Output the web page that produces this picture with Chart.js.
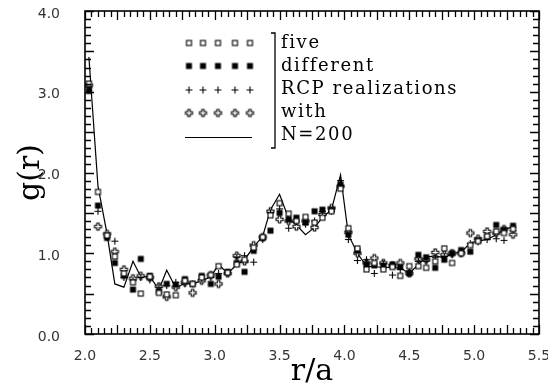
<!DOCTYPE html>
<html>
<head>
<meta charset="utf-8">
<script src="https://cdn.jsdelivr.net/npm/chart.js@4.4.1/dist/chart.umd.min.js"></script>
<style>
  html, body { margin: 0; padding: 0; background: #fff; }
  #wrap { width: 548px; height: 390px; }
</style>
</head>
<body>
<div id="wrap"><canvas id="c" width="548" height="390"></canvas></div>
<script>
// r/a bin positions
const rBins = [2.03, 2.10, 2.17, 2.23, 2.30, 2.37, 2.43, 2.50, 2.57, 2.63,
               2.70, 2.77, 2.83, 2.90, 2.97, 3.03, 3.10, 3.17, 3.23, 3.30,
               3.37, 3.43, 3.50, 3.57, 3.63, 3.70, 3.77, 3.83, 3.90, 3.97,
               4.03, 4.10, 4.17, 4.23, 4.30, 4.37, 4.43, 4.50, 4.57, 4.63,
               4.70, 4.77, 4.83, 4.90, 4.97, 5.03, 5.10, 5.17, 5.23, 5.30];

// g(r) for the five realizations (four marker sets + the solid line)
const gOpenSquare = [3.10, 1.76, 1.22, 0.96, 0.75, 0.64, 0.50, 0.71, 0.51, 0.49,
                     0.48, 0.66, 0.62, 0.70, 0.73, 0.84, 0.76, 0.86, 0.92, 1.07,
                     1.20, 1.47, 1.62, 1.49, 1.40, 1.45, 1.38, 1.44, 1.52, 1.80,
                     1.31, 1.06, 0.80, 0.88, 0.80, 0.83, 0.72, 0.84, 0.84, 0.82,
                     0.90, 1.06, 0.88, 1.00, 1.10, 1.15, 1.21, 1.27, 1.25, 1.30];
const gFilledSquare = [3.01, 1.59, 1.19, 0.88, 0.72, 0.55, 0.93, 0.72, 0.53, 0.62,
                       0.61, 0.68, 0.62, 0.72, 0.62, 0.71, 0.77, 0.88, 0.77, 1.03,
                       1.19, 1.28, 1.50, 1.42, 1.44, 1.38, 1.52, 1.54, 1.54, 1.85,
                       1.23, 1.03, 0.86, 0.85, 0.84, 0.86, 0.83, 0.75, 0.98, 0.95,
                       0.82, 0.92, 1.00, 1.04, 1.02, 1.16, 1.20, 1.35, 1.29, 1.34];
const gPlus = [3.05, 1.52, 1.20, 1.15, 0.70, 0.66, 0.70, 0.67, 0.58, 0.60,
               0.64, 0.62, 0.62, 0.68, 0.70, 0.75, 0.76, 0.95, 0.97, 0.89,
               1.17, 1.50, 1.55, 1.31, 1.39, 1.36, 1.40, 1.52, 1.52, 1.90,
               1.17, 0.91, 0.92, 0.75, 0.87, 0.73, 0.80, 0.78, 0.90, 0.90,
               0.95, 0.96, 0.98, 1.02, 1.12, 1.14, 1.17, 1.18, 1.16, 1.28];
const gDiamond = [3.08, 1.33, 1.24, 1.02, 0.80, 0.69, 0.72, 0.70, 0.59, 0.46,
                  0.58, 0.64, 0.51, 0.66, 0.73, 0.62, 0.75, 0.97, 0.90, 1.10,
                  1.20, 1.52, 1.42, 1.40, 1.33, 1.40, 1.32, 1.48, 1.56, 1.83,
                  1.26, 1.00, 0.88, 0.94, 0.88, 0.85, 0.88, 0.75, 0.93, 0.92,
                  1.01, 0.98, 1.00, 1.00, 1.25, 1.18, 1.27, 1.25, 1.30, 1.23];
const gLine = [3.43, 1.83, 1.24, 0.62, 0.58, 0.90, 0.71, 0.71, 0.55, 0.79,
               0.57, 0.63, 0.62, 0.66, 0.71, 0.86, 0.75, 0.86, 0.92, 1.08,
               1.21, 1.54, 1.73, 1.43, 1.35, 1.23, 1.32, 1.44, 1.54, 1.97,
               1.23, 1.00, 0.84, 0.83, 0.83, 0.82, 0.82, 0.75, 0.86, 0.95,
               0.97, 0.94, 1.00, 1.01, 1.13, 1.15, 1.17, 1.23, 1.29, 1.33];

const legendLines = ['five', 'different', 'RCP realizations', 'with', 'N=200'];

// small marker images, shared by the datasets and the legend
function makeMarker(kind) {
  const m = document.createElement('canvas');
  m.width = 11; m.height = 11;
  const c = m.getContext('2d');
  c.strokeStyle = '#000';
  c.fillStyle = '#000';
  c.lineWidth = 1.1;
  if (kind === 'open') {
    c.fillStyle = '#fff';
    c.fillRect(3, 3, 5, 5);
    c.strokeRect(3, 3, 5, 5);
  } else if (kind === 'filled') {
    c.fillRect(2.5, 2.5, 6, 6);
  } else if (kind === 'plus') {
    c.beginPath();
    c.moveTo(5.5, 2); c.lineTo(5.5, 9);
    c.moveTo(2, 5.5); c.lineTo(9, 5.5);
    c.stroke();
  } else {
    // hollow four-lobed mark
    const p = [[4.3, 2], [6.7, 2], [6.7, 4.3], [9, 4.3], [9, 6.7], [6.7, 6.7], [6.7, 9],
               [4.3, 9], [4.3, 6.7], [2, 6.7], [2, 4.3], [4.3, 4.3]];
    c.beginPath();
    p.forEach(([px, py], k) => k ? c.lineTo(px, py) : c.moveTo(px, py));
    c.closePath();
    c.fillStyle = '#fff';
    c.fill();
    c.lineWidth = 1.1;
    c.stroke();
  }
  return m;
}
const markers = {
  open: makeMarker('open'),
  filled: makeMarker('filled'),
  plus: makeMarker('plus'),
  diamond: makeMarker('diamond')
};

const pts = vals => vals.map((v, i) => ({ x: rBins[i], y: v }));

function markerSet(vals, img) {
  return {
    data: pts(vals),
    showLine: false,
    pointStyle: img,
    pointRadius: 4,
    pointHoverRadius: 4
  };
}

// frame, inward ticks and the in-plot legend
const decorations = {
  id: 'decorations',
  afterDraw(chart) {
    const { ctx, chartArea: a, scales: { x, y } } = chart;
    ctx.save();
    ctx.strokeStyle = '#000';
    ctx.lineWidth = 1.6;
    ctx.strokeRect(a.left, a.top, a.right - a.left, a.bottom - a.top);

    ctx.lineWidth = 1.3;
    for (let k = 0; k <= 70; k++) {
      const px = Math.round(x.getPixelForValue(2 + k * 0.05)) + 0.5;
      const len = k % 5 === 0 ? 9 : 6;
      ctx.beginPath();
      ctx.moveTo(px, a.bottom); ctx.lineTo(px, a.bottom - len);
      ctx.moveTo(px, a.top); ctx.lineTo(px, a.top + len);
      ctx.stroke();
    }
    for (let k = 0; k <= 40; k++) {
      const py = Math.round(y.getPixelForValue(k * 0.1)) + 0.5;
      const len = k % 5 === 0 ? 9 : 6;
      ctx.beginPath();
      ctx.moveTo(a.left, py); ctx.lineTo(a.left + len, py);
      ctx.moveTo(a.right, py); ctx.lineTo(a.right - len, py);
      ctx.stroke();
    }

    // legend: rows of markers, a sample line, a bracket and the text
    const rows = [43, 66, 90, 113, 137];
    const cols = [189, 203, 218, 235, 250];
    const imgs = [markers.open, markers.filled, markers.plus, markers.diamond];
    imgs.forEach((img, r) => {
      cols.forEach(cx => ctx.drawImage(img, cx - 5.5, rows[r] - 5.5));
    });
    ctx.lineWidth = 1.2;
    ctx.beginPath();
    ctx.moveTo(185, rows[4] + 0.5); ctx.lineTo(252, rows[4] + 0.5);
    ctx.stroke();

    ctx.lineWidth = 1.3;
    ctx.beginPath();
    ctx.moveTo(271, 33); ctx.lineTo(275, 33); ctx.lineTo(275, 148); ctx.lineTo(271, 148);
    ctx.stroke();

    ctx.fillStyle = '#000';
    ctx.font = '18px "DejaVu Serif"';
    ctx.letterSpacing = '1.6px';
    ctx.textAlign = 'left';
    ctx.textBaseline = 'alphabetic';
    const base = [48, 71, 94, 117, 140];
    legendLines.forEach((t, k) => ctx.fillText(t, 281, base[k]));
    ctx.restore();
  }
};

new Chart(document.getElementById('c'), {
  type: 'scatter',
  data: {
    datasets: [
      markerSet(gOpenSquare, markers.open),
      markerSet(gFilledSquare, markers.filled),
      markerSet(gPlus, markers.plus),
      markerSet(gDiamond, markers.diamond),
      {
        data: pts(gLine),
        showLine: true,
        borderColor: '#000',
        borderWidth: 1.2,
        pointRadius: 0,
        pointHoverRadius: 0,
        tension: 0
      }
    ]
  },
  options: {
    responsive: false,
    animation: false,
    layout: { padding: { left: 0, right: 9, top: 11, bottom: 0 } },
    plugins: {
      legend: { display: false },
      tooltip: { enabled: false }
    },
    scales: {
      x: {
        type: 'linear',
        min: 2.0,
        max: 5.5,
        grid: { display: false },
        border: { display: false },
        afterFit: s => { s.height = 56; s.paddingLeft = 0; s.paddingRight = 0; },
        ticks: {
          stepSize: 0.5,
          padding: 6,
          color: '#333',
          font: { family: 'DejaVu Sans', size: 14 },
          callback: v => v.toFixed(1)
        },
        title: {
          display: true,
          text: 'r/a',
          color: '#000',
          padding: { top: 0, bottom: 0 },
          font: { family: 'DejaVu Serif', size: 30, lineHeight: 1.2 }
        }
      },
      y: {
        min: 0,
        max: 4.0,
        grid: { display: false },
        border: { display: false },
        afterFit: s => { s.width = 85; s.paddingTop = 0; s.paddingBottom = 0; },
        ticks: {
          stepSize: 1,
          padding: 17,
          labelOffset: 3,
          color: '#333',
          font: { family: 'DejaVu Sans', size: 14 },
          callback: v => v.toFixed(1)
        },
        title: {
          display: true,
          text: 'g(r)',
          color: '#000',
          padding: { top: 13, bottom: 0 },
          font: { family: 'DejaVu Serif', size: 30, lineHeight: 1.2 }
        }
      }
    }
  },
  plugins: [decorations]
});
</script>
</body>
</html>
